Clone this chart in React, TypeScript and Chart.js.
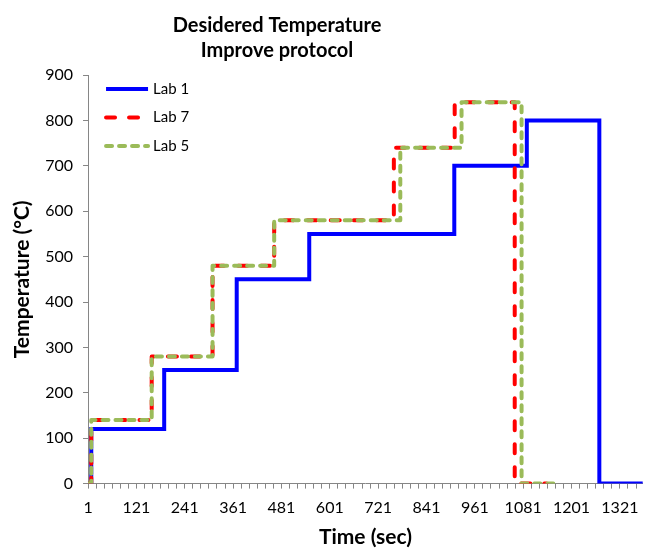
import React, { useEffect, useRef } from 'react';
import { Chart, registerables } from 'chart.js';

Chart.register(...registerables);

// ---- Data ----
const titleLines = ['Desidered Temperature', 'Improve protocol'];
const xAxisTitle = 'Time (sec)';
const yAxisTitle = 'Temperature (°C)';

const seriesNames = ['Lab 1', 'Lab 7', 'Lab 5'];

// step change times (sec) and the temperature that starts at that time
const lab1Time = [1, 9, 190, 370, 550, 910, 1090, 1270, 1378];
const lab1Temp = [0, 120, 250, 450, 550, 700, 800, 0, 0];

const lab7Time = [1, 9, 159, 310, 463, 760, 911, 1060, 1139];
const lab7Temp = [0, 140, 280, 480, 580, 740, 840, 0, 0];

const lab5Time = [1, 9, 159, 310, 463, 776, 928, 1077, 1168];
const lab5Temp = [0, 140, 280, 480, 580, 740, 840, 0, 0];

const xLabelTicks = [1, 121, 241, 361, 481, 601, 721, 841, 961, 1081, 1201, 1321];
const xMin = 1;
const xMax = 1378;
const xMinorStep = 20;

const yTicks = [0, 100, 200, 300, 400, 500, 600, 700, 800, 900];

const toPoints = (t: number[], v: number[]) => t.map((x, i) => ({ x, y: v[i] }));

const FONT = 'Lato, "Open Sans", "DejaVu Sans", sans-serif';
const AXIS_GRAY = '#868686';

const titlePlugin = {
  id: 'twoLineTitle',
  afterDraw(chart: any) {
    const ctx = chart.ctx;
    ctx.save();
    ctx.font = `bold 20px ${FONT}`;
    ctx.fillStyle = '#000';
    ctx.textAlign = 'center';
    ctx.textBaseline = 'middle';
    titleLines.forEach((t, i) => ctx.fillText(t, 277, 26 + i * 25));
    ctx.restore();
  },
};

// legend drawn inside the plot area, styled from the datasets themselves
const legendPlugin = {
  id: 'insideLegend',
  afterDatasetsDraw(chart: any) {
    const ctx = chart.ctx;
    const area = chart.chartArea;
    const x0 = area.left + 18;
    const y0 = area.top + 14;
    const rowGap = 28.5;
    const sampleLen = 42;
    ctx.save();
    chart.data.datasets.forEach((ds: any, i: number) => {
      const y = y0 + i * rowGap;
      ctx.beginPath();
      ctx.strokeStyle = ds.borderColor;
      ctx.lineWidth = ds.borderWidth;
      ctx.lineCap = ds.borderCapStyle || 'butt';
      ctx.setLineDash(ds.borderDash || []);
      ctx.moveTo(x0, y);
      ctx.lineTo(x0 + sampleLen, y);
      ctx.stroke();
      ctx.setLineDash([]);
      ctx.font = `15px ${FONT}`;
      ctx.fillStyle = '#000';
      ctx.textAlign = 'left';
      ctx.textBaseline = 'middle';
      ctx.fillText(ds.label, x0 + sampleLen + 5, y);
    });
    ctx.restore();
  },
};

export default function App() {
  const ref = useRef<HTMLCanvasElement | null>(null);

  useEffect(() => {
    document.body.style.margin = '0';
    const canvas = ref.current;
    if (!canvas) return;

    const chart = new Chart(canvas, {
      type: 'line',
      data: {
        datasets: [
          {
            label: seriesNames[0],
            data: toPoints(lab1Time, lab1Temp),
            borderColor: '#0000FF',
            backgroundColor: '#0000FF',
            borderWidth: 4,
            borderJoinStyle: 'miter',
            stepped: true,
            pointRadius: 0,
            fill: false,
            order: 2,
          },
          {
            label: seriesNames[1],
            data: toPoints(lab7Time, lab7Temp),
            borderColor: '#FF0000',
            backgroundColor: '#FF0000',
            borderWidth: 4,
            borderDash: [9, 14],
            borderCapStyle: 'round',
            borderJoinStyle: 'round',
            stepped: true,
            pointRadius: 0,
            fill: false,
            order: 1,
          },
          {
            label: seriesNames[2],
            data: toPoints(lab5Time, lab5Temp),
            borderColor: '#9BBB59',
            backgroundColor: '#9BBB59',
            borderWidth: 4,
            borderDash: [6, 7],
            borderCapStyle: 'round',
            borderJoinStyle: 'round',
            stepped: true,
            pointRadius: 0,
            fill: false,
            order: 0,
          },
        ],
      },
      options: {
        responsive: false,
        animation: false,
        devicePixelRatio: 1,
        events: [],
        layout: { padding: { top: 75, left: 10, right: -6, bottom: 0 } },
        plugins: {
          title: { display: false },
          tooltip: { enabled: false },
          legend: { display: false },
        },
        scales: {
          x: {
            type: 'linear',
            min: xMin,
            max: xMax,
            afterBuildTicks: (axis: any) => {
              const ticks = [];
              for (let v = xMin; v <= xMax; v += xMinorStep) ticks.push({ value: v });
              axis.ticks = ticks;
            },
            ticks: {
              autoSkip: false,
              maxRotation: 0,
              padding: 10,
              color: '#000',
              font: { family: FONT, size: 16 },
              callback: (v: any) => (xLabelTicks.includes(v) ? String(v) : ''),
            },
            grid: {
              drawOnChartArea: false,
              drawTicks: true,
              tickLength: 5,
              color: AXIS_GRAY,
            },
            border: { color: AXIS_GRAY, width: 1 },
            title: {
              display: true,
              text: xAxisTitle,
              color: '#000',
              font: { family: FONT, size: 21, weight: 'bold' },
              padding: { top: -3, bottom: 0 },
            },
          },
          y: {
            min: 0,
            max: 900,
            afterBuildTicks: (axis: any) => {
              axis.ticks = yTicks.map((v) => ({ value: v }));
            },
            ticks: {
              padding: 10,
              color: '#000',
              font: { family: FONT, size: 16 },
            },
            grid: {
              drawOnChartArea: false,
              drawTicks: true,
              tickLength: 5,
              color: AXIS_GRAY,
            },
            border: { color: AXIS_GRAY, width: 1 },
            title: {
              display: true,
              text: yAxisTitle,
              color: '#000',
              font: { family: FONT, size: 21, weight: 'bold' },
              padding: { top: 0, bottom: 0 },
            },
          },
        },
      },
      plugins: [titlePlugin, legendPlugin],
    } as any);

    return () => chart.destroy();
  }, []);

  return <canvas ref={ref} width={646} height={550} style={{ display: 'block' }} />;
}
